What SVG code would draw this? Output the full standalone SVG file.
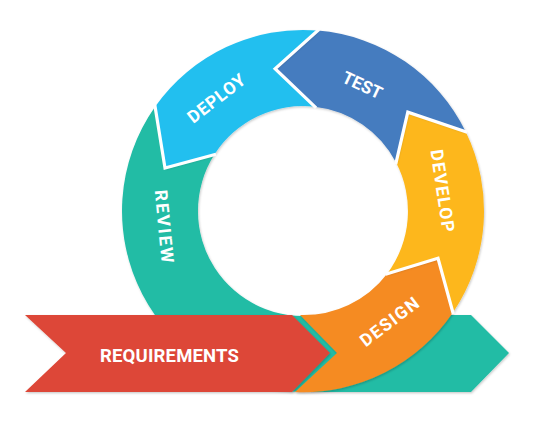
<svg xmlns="http://www.w3.org/2000/svg" width="560" height="436" viewBox="0 0 560 436">
  <defs>
    <filter id="shadow" x="-10%" y="-10%" width="120%" height="120%">
      <feDropShadow dx="0.8" dy="1.2" stdDeviation="1.2" flood-color="#000" flood-opacity="0.22"/>
    </filter>
    <style>
      .lbl { font-family: Roboto, "Liberation Sans", sans-serif; font-weight: 700; fill: #fff; font-size: 17.5px; }
      .req { font-size: 18.5px; }
      .sep { fill: none; stroke: #fff; stroke-width: 3.2; stroke-linejoin: miter; stroke-linecap: square; }
      .seg { filter: url(#shadow); }
    </style>
  </defs>
  <rect width="560" height="436" fill="#fff"/>

  <g id="review">
    <path class="seg" fill="#20BCA5" d="M155.1,106.7 A181,181 0 0 0 303,392 L471,392 L509,353 L471,315 L317.5,315 A105,105 0 0 1 214.4,154.6 L165,168 Z"/>
    <g transform="translate(164.3,226.3) rotate(84.5)">
      <text class="lbl" x="0" y="6.2" text-anchor="middle" textLength="73">REVIEW</text>
    </g>
  </g>

  <g id="requirements">
    <path class="seg" fill="#DD4737" d="M25,315 L292,315 L330,353 L292,392 L25,392 L66,353 Z"/>
    <text class="lbl req" x="169.5" y="361.7" text-anchor="middle" textLength="139">REQUIREMENTS</text>
  </g>

  <g id="design">
    <path class="seg" fill="#F58B20" d="M300,315 L337,353 L295,392 A181,181 0 0 0 452.9,312.5 L438,258.3 L387.2,273.7 A105,105 0 0 1 300,315 Z"/>
    <g transform="translate(389.3,321.7) rotate(-37.5)">
      <text class="lbl" x="0" y="6.2" text-anchor="middle" textLength="69">DESIGN</text>
    </g>
  </g>

  <g id="develop">
    <path class="seg" fill="#FDB71B" d="M452.9,312.5 A181,181 0 0 0 465.7,131.7 L407.8,112.2 L396.1,162.5 A105,105 0 0 1 387.2,273.7 L438,258.3 Z"/>
    <g transform="translate(442.7,190.7) rotate(81.5)">
      <text class="lbl" x="0" y="6.2" text-anchor="middle" textLength="83">DEVELOP</text>
    </g>
  </g>

  <g id="test">
    <path class="seg" fill="#447BBF" d="M465.7,131.7 A181,181 0 0 0 317.8,30.6 L275.1,68.7 L314.9,106.7 A105,105 0 0 1 396.1,162.5 L407.8,112.2 Z"/>
    <g transform="translate(362.5,85) rotate(25)">
      <text class="lbl" x="0" y="6.2" text-anchor="middle" textLength="42">TEST</text>
    </g>
  </g>

  <g id="deploy">
    <path class="seg" fill="#24BFEF" d="M317.8,30.6 A181,181 0 0 0 155.1,106.7 L165,168 L214.4,154.6 A105,105 0 0 1 314.9,106.7 L275.1,68.7 Z"/>
    <g transform="translate(216.3,98.3) rotate(-38)">
      <text class="lbl" x="0" y="6.2" text-anchor="middle" textLength="68">DEPLOY</text>
    </g>
  </g>

  <g id="separators">
    <polyline class="sep" points="452.9,312.5 438,258.3 387.2,273.7"/>
    <polyline class="sep" points="465.7,131.7 407.8,112.2 396.1,162.5"/>
    <polyline class="sep" points="317.8,30.6 275.1,68.7 314.9,106.7"/>
    <polyline class="sep" points="155.1,106.7 165,168 214.4,154.6"/>
  </g>
</svg>
